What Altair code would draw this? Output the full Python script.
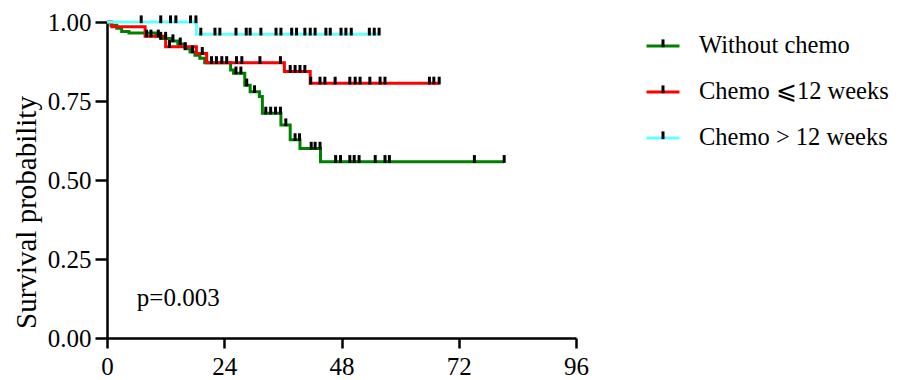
import altair as alt
import pandas as pd

groups = ["Without chemo", "Chemo ⩽12 weeks", "Chemo > 12 weeks"]
group_codes = ["g1", "g2", "g3"]
colors = ["#008000", "#ff0000", "#66ffff"]

# Kaplan-Meier step curves (time in months, survival probability)
green_t = [0, 0.8, 2, 3, 4.5, 10, 11, 13, 14.5, 16, 17, 18, 19, 20, 25.3, 25.9, 28.2, 29.3, 31.2, 31.8, 35.6, 37.5, 39.5, 43.7, 81.3]
green_s = [1.0, 0.99, 0.98, 0.97, 0.965, 0.955, 0.948, 0.94, 0.93, 0.915, 0.905, 0.895, 0.885, 0.871, 0.848, 0.838, 0.80, 0.779, 0.764, 0.711, 0.674, 0.627, 0.600, 0.558, 0.558]
red_t = [0, 1, 7.8, 12, 18.3, 20.4, 36.3, 41.6, 68]
red_s = [1.0, 0.985, 0.955, 0.922, 0.90, 0.871, 0.843, 0.806, 0.806]
cyan_t = [0, 18.3, 55.7]
cyan_s = [1.0, 0.961, 0.961]

# censoring times
green_cens = [11, 12, 13.5, 15, 16, 17.5, 21.4, 22.4, 23.5, 24.5, 26.4, 27.4, 28.6, 30.2, 32.5, 33.5, 34.5, 35.5,
              36.6, 38.5, 39.4, 41.8, 42.6, 43.6, 46.8, 47.8, 49.7, 50.6, 51.6, 54.9, 56.9, 57.8, 75.2, 81.3]
red_cens = [8.1, 9.0, 10.5, 12.8, 19.5, 26.5, 27.6, 31.3, 35.5, 37.5, 38.5, 39.5, 40.5, 41.7, 43.6, 44.6, 46.7,
            49.7, 50.8, 51.8, 53.8, 55.9, 56.9, 66.0, 66.9, 68.0]
cyan_cens = [7.0, 11.0, 13.0, 14.1, 17.1, 18.2, 19.2, 22.1, 23.1, 26.4, 28.5, 29.3, 31.5, 34.6, 35.6, 37.8, 38.8,
             40.5, 41.6, 42.6, 44.8, 45.7, 47.9, 48.9, 50.0, 53.7, 54.7, 55.7]

x_ticks = [0, 24, 48, 72, 96]
y_ticks = [0.0, 0.25, 0.50, 0.75, 1.00]
p_label = "p=0.003"
p_pos = (6.1, 0.10)

FONT = "Liberation Serif"
TICK_PATH = "M0,0.07V-0.4"

curves = [(green_t, green_s, green_cens), (red_t, red_s, red_cens), (cyan_t, cyan_s, cyan_cens)]

line_rows, cens_rows = [], []
for g, code, (ts, ss, cs) in zip(groups, group_codes, curves):
    for i, (t, s) in enumerate(zip(ts, ss)):
        line_rows.append({"group": g, "time": t, "surv": s, "ord": i})
    for c in cs:
        s_at = [s for t, s in zip(ts, ss) if t <= c][-1]
        cens_rows.append({"grp": code, "time": c, "surv": s_at})

lines_df = pd.DataFrame(line_rows)
cens_df = pd.DataFrame(cens_rows)
text_df = pd.DataFrame({"time": [p_pos[0]], "surv": [p_pos[1]], "label": [p_label]})

xscale = alt.Scale(domain=[0, 96], nice=False, zero=False)
yscale = alt.Scale(domain=[0, 1], nice=False)

xaxis = alt.Axis(values=x_ticks, title=None, labelFont=FONT, labelFontSize=25, labelColor="black",
                 tickSize=10, tickWidth=2.5, tickColor="black", domainWidth=2.5, domainColor="black",
                 labelPadding=6, grid=False, labelFlush=False)
yaxis = alt.Axis(values=y_ticks, format=".2f", title="Survival probability", titleFont=FONT,
                 titleFontSize=29, titleFontWeight="normal", titleColor="black",
                 titleAngle=270, titleX=-66, titleY=190, titleBaseline="bottom", titleAlign="center",
                 labelFont=FONT, labelFontSize=25, labelColor="black", tickSize=12, tickWidth=2.5,
                 tickColor="black", domainWidth=2.5, domainColor="black", labelPadding=4, grid=False)

legend_common = dict(title=None, orient="none", legendX=538, legendY=6, symbolSize=1089,
                     labelFont=FONT, labelFontSize=24.5, labelColor="black", rowPadding=16,
                     labelOffset=18, labelLimit=400)

lines = alt.Chart(lines_df).mark_line(interpolate="step-after", strokeWidth=3).encode(
    x=alt.X("time:Q", scale=xscale, axis=xaxis),
    y=alt.Y("surv:Q", scale=yscale, axis=yaxis),
    color=alt.Color("group:N", scale=alt.Scale(domain=groups, range=colors),
                    legend=alt.Legend(symbolType="stroke", symbolStrokeWidth=3, **legend_common)),
    order="ord:Q",
)

ticks = alt.Chart(cens_df).mark_point(filled=False, size=1089, strokeWidth=3, color="black", opacity=1).encode(
    x=alt.X("time:Q", scale=xscale),
    y=alt.Y("surv:Q", scale=yscale),
    shape=alt.Shape("grp:N", scale=alt.Scale(domain=group_codes, range=[TICK_PATH] * 3),
                    legend=alt.Legend(symbolStrokeColor="black", symbolFillColor="transparent",
                                      symbolStrokeWidth=3, labelOpacity=0, labelExpr="''",
                                      **legend_common)),
)

ptext = alt.Chart(text_df).mark_text(font=FONT, fontSize=25, align="left", baseline="alphabetic",
                                     color="black").encode(
    x=alt.X("time:Q", scale=xscale),
    y=alt.Y("surv:Q", scale=yscale),
    text="label:N",
)

chart = alt.layer(lines, ticks, ptext).resolve_legend(color="independent", shape="independent").properties(
    width=469, height=316,
    autosize=alt.AutoSizeParams(type="none"),
    padding={"left": 99, "top": 14, "right": 322, "bottom": 40},
).configure_view(stroke=None)

chart.save("out.html", embed_options={"renderer": "svg", "actions": False})
